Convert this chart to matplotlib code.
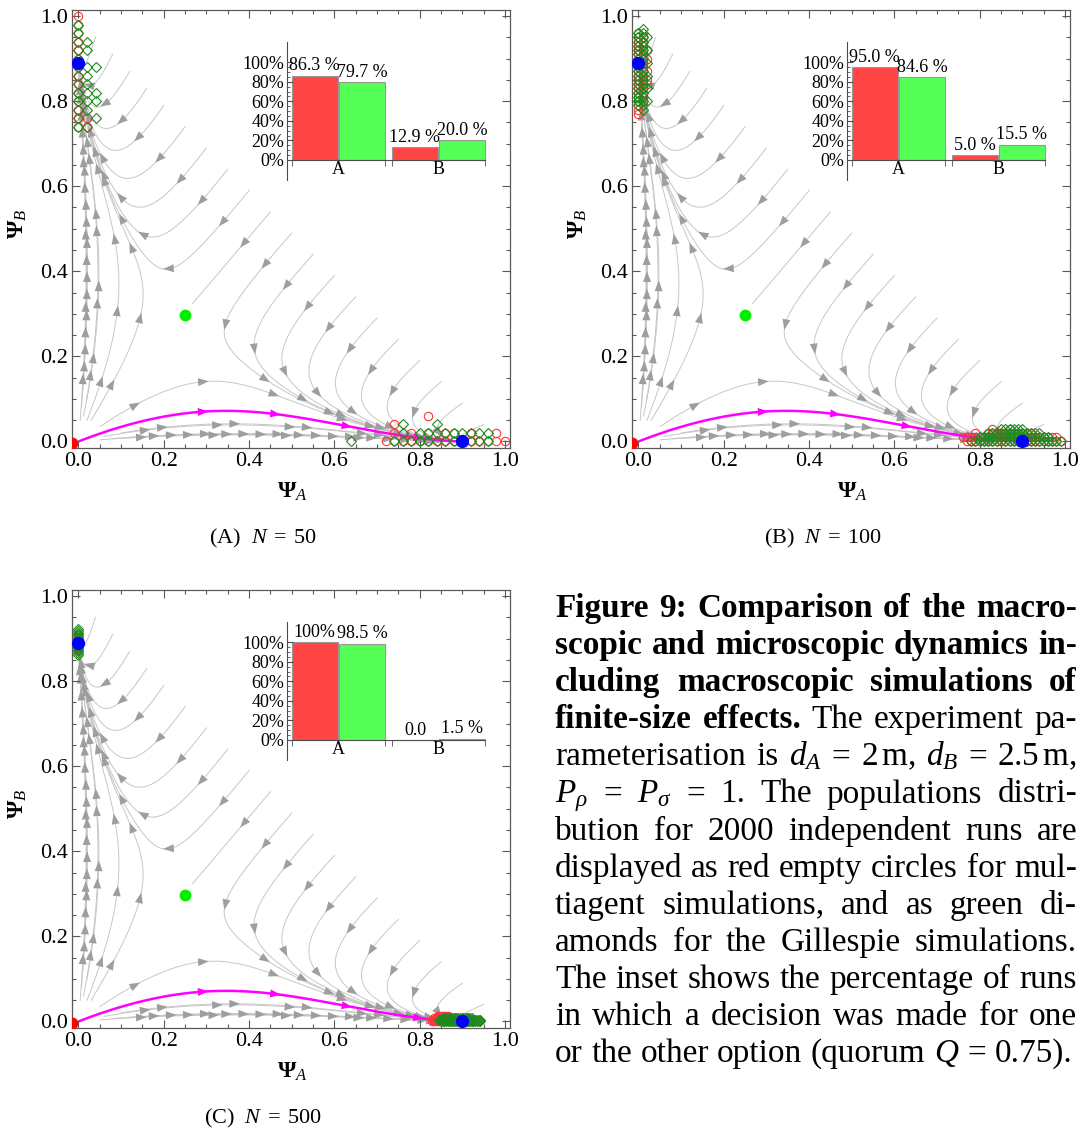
import numpy as np
import matplotlib
matplotlib.use("Agg")
import matplotlib.pyplot as plt
from matplotlib.patches import FancyArrowPatch
from matplotlib.ticker import FixedLocator, MultipleLocator

plt.rcParams["font.family"] = ["Liberation Serif", "DejaVu Serif"]
plt.rcParams["mathtext.fontset"] = "custom"
plt.rcParams["mathtext.rm"] = "Liberation Serif"
plt.rcParams["mathtext.it"] = "Liberation Serif:italic"
plt.rcParams["mathtext.bf"] = "Liberation Serif:bold"

# ---------------- data ----------------
panel_tags = ["(A)", "(B)", "(C)"]
panel_N = [50, 100, 500]
options = ["A", "B"]

# inset bars: % of runs deciding for A / B
multiagent_A = [86.3, 12.9]
gillespie_A = [79.7, 20.0]
multiagent_B = [95.0, 5.0]
gillespie_B = [84.6, 15.5]
multiagent_C = [100.0, 0.0]
gillespie_C = [98.5, 1.5]
multiagent_lbl = [["86.3 %", "12.9 %"], ["95.0 %", "5.0 %"], ["100%", "0.0"]]
gillespie_lbl = [["79.7 %", "20.0 %"], ["84.6 %", "15.5 %"], ["98.5 %", "1.5 %"]]

# fixed points of the macroscopic model
stable_x = [0.0, 0.9]
stable_y = [0.89, 0.0]
saddle_x, saddle_y = [0.25], [0.297]
unstable_x, unstable_y = [-0.015], [-0.003]

# macroscopic model parameters (cross-inhibition dynamics)
rho_A, rho_B = 1.0, 1.0
alpha_A, alpha_B = 0.10, 0.11
sigma_A, sigma_B = 1.36, 1.167

# stream seeds
diag_seed_x = [0.04, 0.08, 0.12, 0.16, 0.20, 0.25, 0.30, 0.35, 0.40, 0.45,
               0.50, 0.55, 0.60, 0.65, 0.70, 0.75, 0.80, 0.85, 0.90, 0.95]
axis_seeds = [(0.05, 0.004), (0.08, 0.007), (0.12, 0.010), (0.16, 0.012),
              (0.20, 0.015), (0.06, 0.012), (0.10, 0.020),
              (0.004, 0.05), (0.007, 0.08), (0.010, 0.12), (0.012, 0.16),
              (0.015, 0.20), (0.012, 0.06), (0.020, 0.10), (0.02, 0.05),
              (0.03, 0.05), (0.05, 0.035)]
magenta_seed = (0.004, 0.0016)

# final population states of the 2000 runs, read as occupancy grids
# (top row first, '#' = at least one run ended there)
clusters = [
    {  # N = 50
        "red": [
            (["#", "#", "#", "#", "#", "#", "#", "#", "#", "#", "#", "#", "##", "##"],
             0.0, 0.74, 0.02, 0.02),
            ([".........#", ".....#", ".....#.#.#.##.#..#.", "....###############"],
             0.64, 0.0, 0.02, 0.02),
        ],
        "green": [
            (["", "#", "#", "##", "##", "#", "###", "##", "##", "###", "###", "##", "#.#", "##"],
             0.0, 0.74, 0.02, 0.02),
            (["", "......#...#", "......#.#########", "#....############"],
             0.64, 0.0, 0.02, 0.02),
        ],
    },
    {  # N = 100
        "red": [
            (["", "#", "##", "##", "##", "###", "##", "###", "##", "##", "###", "##", "###",
              "###", "##", "##", "##", "##", "#", "#", "#"],
             0.0, 0.77, 0.01, 0.01),
            ([".......#...#", "...#..###########", "#######################",
              ".#######################"],
             0.76, 0.0, 0.01, 0.01),
        ],
        "green": [
            ([".#", "##", "###", "##", "##", "###", "##", "##", "###", "##", "##", "###",
              "##", "##", "###", "##", "##", "###", "##", ".#", ""],
             0.0, 0.77, 0.01, 0.01),
            ([".........######", "......#############", "....#################",
              "..######################"],
             0.76, 0.0, 0.01, 0.01),
        ],
    },
    {  # N = 500
        "red": [
            (["#", "#", "#", "#", "#", "#", "#", "#", "#", "#"],
             0.0, 0.872, 0.004, 0.004),
            (["...#######", ".##############", "#######################",
              "#########################"],
             0.83, 0.0, 0.004, 0.004),
        ],
        "green": [
            (["#", "#", "#", "#", "#", "#", "#", "#", "#", "#", "#", "#", "#", "#", "#", "#"],
             0.0, 0.862, 0.004, 0.004),
            (["......##################", "....#########################",
              ".....########################"],
             0.83, 0.0, 0.004, 0.004),
        ],
    },
]

caption_bold = ["Figure 9: Comparison of the macro-",
                "scopic and microscopic dynamics in-",
                "cluding macroscopic simulations of",
                "finite-size effects.",
                "", "", "", "", "", "", "", "", ""]
caption_regular = ["", "", "",
                   "The experiment pa-",
                   r"rameterisation is $d_A$ = $2\,\mathrm{m}$, $d_B$ = $2.5\,\mathrm{m}$,",
                   r"$P_\rho$ = $P_\sigma$ = 1. The populations distri-",
                   "bution for 2000 independent runs are",
                   "displayed as red empty circles for mul-",
                   "tiagent simulations, and as green di-",
                   "amonds for the Gillespie simulations.",
                   "The inset shows the percentage of runs",
                   "in which a decision was made for one",
                   r"or the other option (quorum $Q$ = 0.75)."]


# ---------------- model trajectories ----------------
def field(p):
    x, y = p[0], p[1]
    u = 1 - x - y
    return np.array([x * (rho_A * u - alpha_A - sigma_B * y),
                     y * (rho_B * u - alpha_B - sigma_A * x)])


stops = [((0.9, 0.0), 0.012), ((0.0, 0.89), 0.012), ((0.25, 0.3), 0.03)]


def trajectory(seed, dt=0.02, tmax=120):
    p = np.array(seed, float)
    pts = [p]
    for _ in range(int(tmax / dt)):
        k1 = field(p)
        k2 = field(p + dt / 2 * k1)
        k3 = field(p + dt / 2 * k2)
        k4 = field(p + dt * k3)
        p = p + dt / 6 * (k1 + 2 * k2 + 2 * k3 + k4)
        pts.append(p)
        if any(np.hypot(p[0] - c[0], p[1] - c[1]) < r for c, r in stops):
            break
        if np.hypot(*k1) < 1e-5:
            break
    return np.array(pts)


seeds = [(x, 0.99 - x) for x in diag_seed_x] + axis_seeds
trajs = [trajectory(s) for s in seeds]
magenta_traj = trajectory(magenta_seed)


def arrows_along(ax, tr, color, first, spacing, ms, z):
    seg = np.hypot(np.diff(tr[:, 0]), np.diff(tr[:, 1]))
    s = np.concatenate([[0], np.cumsum(seg)])
    L = s[-1]
    pos = first
    while pos < L - 0.03:
        tail = [np.interp(pos - 0.01, s, tr[:, 0]), np.interp(pos - 0.01, s, tr[:, 1])]
        head = [np.interp(pos + 0.01, s, tr[:, 0]), np.interp(pos + 0.01, s, tr[:, 1])]
        ax.add_patch(FancyArrowPatch(tail, head, arrowstyle="-|>,head_length=0.45,head_width=0.17",
                                     mutation_scale=ms, color=color, lw=0, shrinkA=0,
                                     shrinkB=0, zorder=z))
        pos += spacing


# ---------------- figure ----------------
W, H = 1084, 1130
fig = plt.figure(figsize=(W / 100, H / 100), dpi=100)


def px_axes(x0, y0, x1, y1):
    return fig.add_axes([x0 / W, 1 - y1 / H, (x1 - x0) / W, (y1 - y0) / H])


RED_PT, GREEN_PT = "#ff3535", "#1f8a1f"
RED_BAR, GREEN_BAR = "#ff4545", "#55ff55"
offsets = [(0, 0), (560, 0), (0, 580)]
multi = [multiagent_A, multiagent_B, multiagent_C]
gill = [gillespie_A, gillespie_B, gillespie_C]


def draw_grid(ax, spec, **kw):
    rows, x0, y0, dx, dy = spec
    xs, ys = [], []
    n = len(rows)
    for i, row in enumerate(rows):
        for j, c in enumerate(row):
            if c == "#":
                xs.append(x0 + j * dx)
                ys.append(y0 + (n - 1 - i) * dy)
    ax.plot(xs, ys, linestyle="none", **kw)


for k, (ox, oy) in enumerate(offsets):
    ax = px_axes(71.7 + ox, 10 + oy, 510 + ox, 448.3 + oy)
    for tr in trajs:
        ax.plot(tr[:, 0], tr[:, 1], color="0.78", lw=0.7, zorder=1)
        arrows_along(ax, tr, "0.62", 0.1, 0.17, 17, 1.5)
    ax.plot(magenta_traj[:, 0], magenta_traj[:, 1], color="#ff00ff", lw=1.8, zorder=2)
    arrows_along(ax, magenta_traj, "#ff00ff", 0.3, 0.17, 17, 2.5)
    for spec in clusters[k]["red"]:
        draw_grid(ax, spec, marker="o", ms=6, mfc="none", mec=RED_PT, mew=0.8, zorder=3)
    for spec in clusters[k]["green"]:
        draw_grid(ax, spec, marker="D", ms=4.6, mfc="none", mec=GREEN_PT, mew=0.8, zorder=4)
    ax.plot(stable_x, stable_y, "o", color="#0000ff", ms=8.5, zorder=6)
    ax.plot(saddle_x, saddle_y, "o", color="#00ee00", ms=7.5, zorder=6)
    ax.plot(unstable_x, unstable_y, "o", color="#ff0000", ms=7.5, zorder=6)

    ax.set_xlim(-0.0159, 1.0117)
    ax.set_ylim(-0.016, 1.0141)
    ax.xaxis.set_major_locator(MultipleLocator(0.2))
    ax.yaxis.set_major_locator(MultipleLocator(0.2))
    ax.xaxis.set_minor_locator(MultipleLocator(0.05))
    ax.yaxis.set_minor_locator(MultipleLocator(0.05))
    ax.xaxis.set_major_formatter(lambda v, p: f"{v:.1f}")
    ax.yaxis.set_major_formatter(lambda v, p: f"{v:.1f}")
    ax.tick_params(which="both", direction="in", top=True, right=True, color="0.35",
                   width=0.8, labelsize=16, pad=2.5)
    ax.tick_params(which="major", length=6)
    ax.tick_params(which="minor", length=3)
    for s in ax.spines.values():
        s.set_color("0.35")
        s.set_linewidth(0.9)

    fig.text((292 + ox) / W, 1 - (492 + oy) / H, r"$\mathbf{\Psi}_{A}$", fontsize=17,
             ha="center", va="center")
    fig.text((18 + ox) / W, 1 - (224 + oy) / H, r"$\mathbf{\Psi}_{B}$", fontsize=17,
             ha="center", va="center", rotation=90)
    fig.text((263 + ox) / W, 1 - (543 + oy) / H,
             panel_tags[k] + r"  $N\;=\;%d$" % panel_N[k], fontsize=16,
             ha="center", va="baseline")

    # inset bar chart
    ins = px_axes(287 + ox, 42 + oy, 490 + ox, 180 + oy)
    ins.patch.set_alpha(0)
    red_left = [0.10, 2.28]
    green_left = [1.13, 3.30]
    ins.bar(red_left, multi[k], width=1.0, align="edge", color=RED_BAR,
            edgecolor="0.6", linewidth=0.8)
    ins.bar(green_left, gill[k], width=1.0, align="edge", color=GREEN_BAR,
            edgecolor="0.6", linewidth=0.8)
    for i in range(2):
        ins.text(red_left[i] + 0.5, multi[k][i] + 1.5, multiagent_lbl[k][i],
                 ha="center", va="bottom", fontsize=13)
        ins.text(green_left[i] + 0.5, gill[k][i] + 1.5, gillespie_lbl[k][i],
                 ha="center", va="bottom", fontsize=13)
    ins.set_xlim(0, 4.41)
    ins.set_ylim(-20.5, 120.8)
    ins.spines["top"].set_visible(False)
    ins.spines["right"].set_visible(False)
    ins.spines["bottom"].set_position(("data", 0))
    ins.spines["bottom"].set_bounds(0.10, 4.30)
    for s in ("left", "bottom"):
        ins.spines[s].set_color("0.3")
        ins.spines[s].set_linewidth(0.8)
    ins.set_yticks([0, 20, 40, 60, 80, 100])
    ins.set_yticklabels(["0%", "20%", "40%", "60%", "80%", "100%"])
    ins.yaxis.set_minor_locator(FixedLocator([5, 10, 15, 25, 30, 35, 45, 50, 55, 65, 70,
                                              75, 85, 90, 95]))
    ins.tick_params(axis="y", which="both", direction="in", labelsize=13, pad=2,
                    color="0.3")
    ins.tick_params(axis="y", which="major", length=4)
    ins.tick_params(axis="y", which="minor", length=2)
    ins.set_xticks([(red_left[0] + green_left[0] + 1) / 2,
                    (red_left[1] + green_left[1] + 1) / 2])
    ins.set_xticklabels(options)
    ins.xaxis.set_minor_locator(FixedLocator([red_left[0], green_left[0] + 1,
                                              red_left[1], green_left[1] + 1]))
    ins.tick_params(axis="x", which="major", length=0, labelsize=13, pad=1)
    ins.tick_params(axis="x", which="minor", direction="out", length=4, color="0.3")

# ---------------- caption (justified) ----------------
renderer = fig.canvas.get_renderer()


def measure(s, bold, size):
    t = fig.text(0, 0, s, fontsize=size, fontweight="bold" if bold else "normal")
    w = t.get_window_extent(renderer=renderer).width
    t.remove()
    return w


cap_left, cap_right = 555.0, 1077.0
lines = []
for b, g in zip(caption_bold, caption_regular):
    lines.append([(w, True) for w in b.split()] + [(w, False) for w in g.split()])

base = 20.0
space = measure("x x", False, base) - measure("xx", False, base)
natural = [sum(measure(w, bb, base) for w, bb in ln) + space * (len(ln) - 1) for ln in lines]
fs = base * min((cap_right - cap_left) / n for n in natural) * 0.995
space = measure("x x", False, fs) - measure("xx", False, fs)

for i, ln in enumerate(lines):
    widths = [measure(w, bb, fs) for w, bb in ln]
    if i == len(lines) - 1:
        gap = space
    else:
        gap = (cap_right - cap_left - sum(widths)) / (len(ln) - 1)
    x = cap_left
    y = 617 + 37.1 * i
    for (w, bb), wd in zip(ln, widths):
        fig.text(x / W, 1 - y / H, w, fontsize=fs, fontweight="bold" if bb else "normal",
                 ha="left", va="baseline")
        x += wd + gap

fig.savefig("out.png", dpi=100)
